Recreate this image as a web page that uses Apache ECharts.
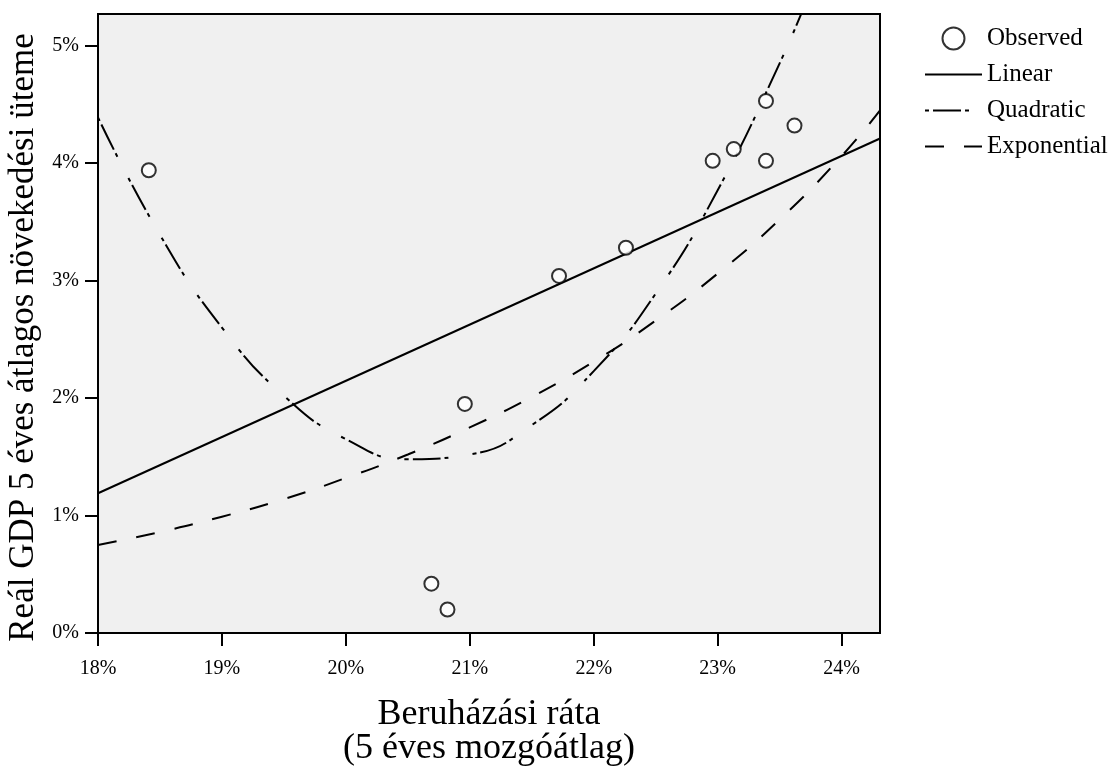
<!DOCTYPE html>
<html>
<head>
<meta charset="utf-8">
<script src="https://cdn.jsdelivr.net/npm/echarts@6/dist/echarts.min.js"></script>
<style>
  html, body { margin: 0; padding: 0; background: #fff; }
  #chart { width: 1110px; height: 771px; }
</style>
</head>
<body>
<div id="chart"></div>
<script>
// observed points: [beruházási ráta %, GDP növekedés %]
const observedX = [18.41, 20.69, 20.82, 20.96, 21.72, 22.26, 22.96, 23.13, 23.39, 23.39, 23.62]
const observedY = [3.94, 0.42, 0.20, 1.95, 3.04, 3.28, 4.02, 4.12, 4.53, 4.02, 4.32]

// fitted curves
const linearX = [18, 24.31]
const linearY = [1.19, 4.21]

const quadX = [18, 18.5, 19, 19.5, 20, 20.5, 21, 21.5, 22, 22.5, 23, 23.5, 23.75]
const quadY = [4.39, 3.39, 2.60, 2.02, 1.65, 1.48, 1.52, 1.77, 2.23, 2.89, 3.77, 4.85, 5.47]

const expX = [18, 18.5, 19, 19.5, 20, 20.5, 21, 21.5, 22, 22.5, 23, 23.5, 24, 24.31]
const expY = [0.75, 0.86, 0.99, 1.14, 1.32, 1.52, 1.75, 2.01, 2.31, 2.66, 3.06, 3.52, 4.06, 4.45]

const pairs = (xs, ys) => xs.map((x, i) => [x, ys[i]])

const font = '"Liberation Serif", "DejaVu Serif", serif'
const noDot = { opacity: 0 }   // hide the dot ECharts puts on line legend icons

let dom = echarts.init(document.getElementById('chart'))
let option = {
  animation: false,
  textStyle: { fontFamily: font },
  grid: {
    left: 98,
    top: 14,
    right: 230,
    bottom: 138,
    outerBoundsMode: 'none',
    show: true,
    backgroundColor: '#f0f0f0',
    borderColor: '#000',
    borderWidth: 2
  },
  legend: {
    orient: 'vertical',
    left: 919,
    top: 21,
    itemWidth: 57,
    itemHeight: 22,
    itemGap: 11,
    textStyle: { fontFamily: font, fontSize: 25, color: '#000' },
    data: [
      { name: 'Observed' },
      { name: 'Linear', itemStyle: noDot },
      { name: 'Quadratic', itemStyle: noDot },
      { name: 'Exponential', itemStyle: noDot }
    ]
  },
  xAxis: {
    type: 'value',
    min: 18,
    max: 24.31,
    interval: 1,
    name: 'Beruházási ráta\n(5 éves mozgóátlag)',
    nameLocation: 'middle',
    nameGap: 65,
    nameTextStyle: { fontFamily: font, fontSize: 36, color: '#000', lineHeight: 34, verticalAlign: 'top' },
    axisLine: { lineStyle: { color: '#000', width: 2 } },
    axisTick: { length: 13, lineStyle: { color: '#000', width: 2 } },
    splitLine: { show: false },
    axisLabel: {
      margin: 26,
      fontSize: 20,
      color: '#000',
      fontFamily: font,
      showMaxLabel: false,
      formatter: v => v + '%'
    }
  },
  yAxis: {
    type: 'value',
    min: 0,
    max: 5.27,
    interval: 1,
    name: 'Reál GDP 5 éves átlagos növekedési üteme',
    nameLocation: 'middle',
    nameGap: 57,
    nameTextStyle: { fontFamily: font, fontSize: 35, color: '#000', padding: [0, 28, 0, 0] },
    axisLine: { show: true, lineStyle: { color: '#000', width: 2 } },
    axisTick: { show: true, length: 13, lineStyle: { color: '#000', width: 2 } },
    splitLine: { show: false },
    axisLabel: {
      margin: 19,
      fontSize: 20,
      color: '#000',
      fontFamily: font,
      showMaxLabel: false,
      formatter: v => v + '%'
    }
  },
  series: [
    {
      name: 'Observed',
      type: 'scatter',
      symbol: 'emptyCircle',
      symbolSize: 14,
      itemStyle: { color: '#000', borderColor: '#000', borderWidth: 2 },
      data: pairs(observedX, observedY),
      z: 5
    },
    {
      name: 'Linear',
      type: 'line',
      symbol: 'none',
      lineStyle: { color: '#000', width: 2 },
      itemStyle: { color: '#000' },
      data: pairs(linearX, linearY)
    },
    {
      name: 'Quadratic',
      type: 'line',
      symbol: 'none',
      smooth: true,
      clip: true,
      lineStyle: { color: '#000', width: 2, type: [4, 4, 28, 4, 4, 24] },
      itemStyle: { color: '#000' },
      data: pairs(quadX, quadY)
    },
    {
      name: 'Exponential',
      type: 'line',
      symbol: 'none',
      smooth: true,
      lineStyle: { color: '#000', width: 2, type: [19, 20] },
      itemStyle: { color: '#000' },
      data: pairs(expX, expY)
    }
  ]
}
dom.setOption(option)
window.addEventListener('resize', dom.resize)
</script>
</body>
</html>
